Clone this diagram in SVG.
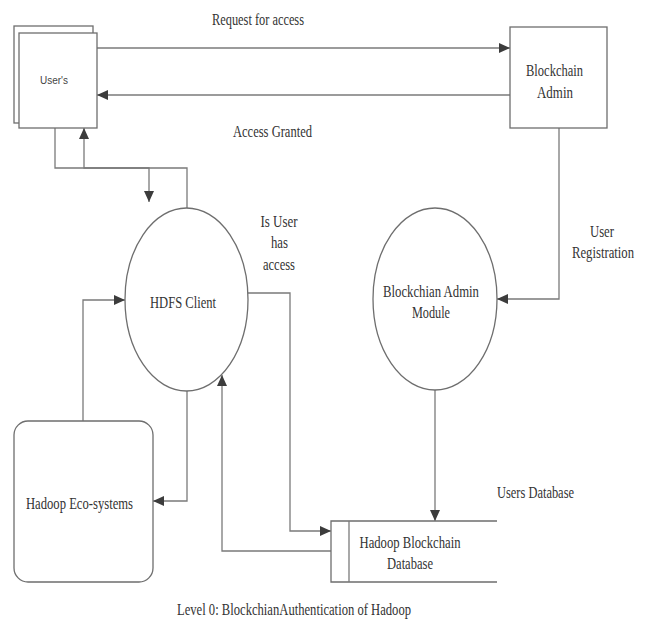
<svg xmlns="http://www.w3.org/2000/svg" width="645" height="619" viewBox="0 0 645 619">
<style>
.shape{fill:#fff;stroke:#6e6e6e;stroke-width:1.3}
.line{fill:none;stroke:#7a7a7a;stroke-width:1.3}
.t{font-family:"Liberation Serif","Times New Roman",serif;font-size:17px;fill:#333;text-anchor:middle}
.s{font-family:"Liberation Sans",Arial,sans-serif;font-size:11px;fill:#444;text-anchor:middle}
</style>
<defs>
<marker id="arr" markerUnits="userSpaceOnUse" markerWidth="11" markerHeight="10" refX="11" refY="5" orient="auto">
<path d="M0,0 L11,5 L0,10 z" fill="#3c3c3c"/>
</marker>
</defs>
<rect width="645" height="619" fill="#fff"/>
<g id="connectors">
<path class="line" d="M97,48 H510" marker-end="url(#arr)"/>
<path class="line" d="M510,95 H97" marker-end="url(#arr)"/>
<path class="line" d="M559,128 V299 H497" marker-end="url(#arr)"/>
<path class="line" d="M435,390 V521" marker-end="url(#arr)"/>
<path class="line" d="M55,128 V168 H149 V202" marker-end="url(#arr)"/>
<path class="line" d="M187,208 V168 H84 V128" marker-end="url(#arr)"/>
<path class="line" d="M83,421 V300 H125" marker-end="url(#arr)"/>
<path class="line" d="M187,391 V501 H153" marker-end="url(#arr)"/>
<path class="line" d="M248,293 H290 V531 H331" marker-end="url(#arr)"/>
<path class="line" d="M331,551 H222 V375" marker-end="url(#arr)"/>
<text class="t" x="258" y="25" textLength="92" lengthAdjust="spacingAndGlyphs">Request for access</text>
<text class="t" x="272.5" y="137" textLength="79" lengthAdjust="spacingAndGlyphs">Access Granted</text>
<text class="t" x="602" y="237" textLength="24" lengthAdjust="spacingAndGlyphs">User</text>
<text class="t" x="603" y="258" textLength="62" lengthAdjust="spacingAndGlyphs">Registration</text>
<text class="t" x="279" y="227" textLength="37" lengthAdjust="spacingAndGlyphs">Is User</text>
<text class="t" x="279.5" y="248" textLength="17" lengthAdjust="spacingAndGlyphs">has</text>
<text class="t" x="279" y="270" textLength="32" lengthAdjust="spacingAndGlyphs">access</text>
<text class="t" x="535.5" y="498" textLength="77" lengthAdjust="spacingAndGlyphs">Users Database</text>
</g>
<g id="users">
<rect class="shape" x="14" y="26" width="79" height="97"/>
<rect class="shape" x="19" y="33" width="78" height="95"/>
<text class="s" x="54" y="84" textLength="28" lengthAdjust="spacingAndGlyphs">User's</text>
</g>
<g id="blockchain-admin">
<rect class="shape" x="510" y="27" width="97" height="101"/>
<text class="t" x="554.5" y="76" textLength="57" lengthAdjust="spacingAndGlyphs">Blockchain</text>
<text class="t" x="555" y="98" textLength="36" lengthAdjust="spacingAndGlyphs">Admin</text>
</g>
<g id="hdfs-client">
<ellipse class="shape" cx="186.5" cy="299.5" rx="61.5" ry="91.5"/>
<text class="t" x="183" y="308" textLength="66" lengthAdjust="spacingAndGlyphs">HDFS Client</text>
</g>
<g id="admin-module">
<ellipse class="shape" cx="435" cy="299" rx="62" ry="91"/>
<text class="t" x="431" y="297" textLength="96" lengthAdjust="spacingAndGlyphs">Blockchian Admin</text>
<text class="t" x="431" y="318" textLength="38" lengthAdjust="spacingAndGlyphs">Module</text>
</g>
<g id="hadoop-eco">
<rect class="shape" x="14" y="421" width="139" height="161" rx="14"/>
<text class="t" x="79.5" y="509" textLength="107" lengthAdjust="spacingAndGlyphs">Hadoop Eco-systems</text>
</g>
<g id="hadoop-db">
<path class="shape" d="M497,521 H331 V582 H497"/>
<path class="line" d="M349,521 V582"/>
<text class="t" x="410" y="548" textLength="101" lengthAdjust="spacingAndGlyphs">Hadoop Blockchain</text>
<text class="t" x="410" y="569" textLength="46" lengthAdjust="spacingAndGlyphs">Database</text>
</g>
<text class="t" x="294" y="615" textLength="234" lengthAdjust="spacingAndGlyphs">Level 0: BlockchianAuthentication of Hadoop</text>
</svg>
